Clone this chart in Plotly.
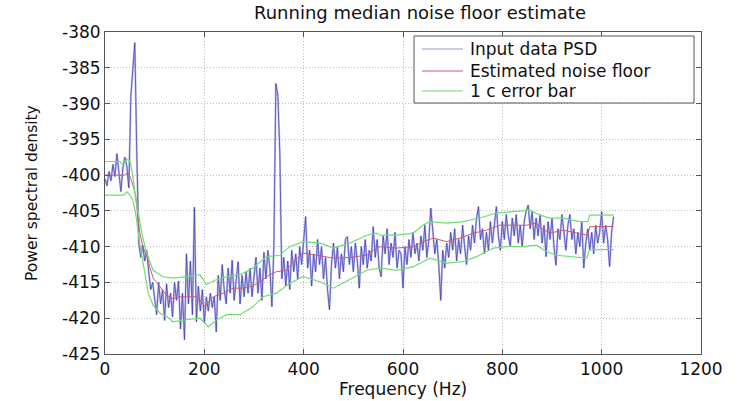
import plotly.graph_objects as go

# ---------------- data ----------------
psd_step_hz = 4
psd_values = [
    -400.5, -401.5, -399.5, -400.8, -398.5, -400.2, -397.0, -399.8, -402.3, -399.0, -397.5, -398.8, -401.8, -389.0, -385.0, -381.5, -397.0, -409.5, -411.5, -409.8, -412.0, -410.5, -413.5, -416.0, -415.0,
    -417.0, -419.5, -415.0, -418.0, -416.0, -420.3, -415.2, -418.5, -416.5, -419.8, -415.0, -417.5, -414.8, -421.5, -416.5, -423.0, -411.0, -418.0, -412.0, -419.5, -404.5, -420.5, -415.5, -419.0, -416.0,
    -420.7, -417.0, -419.0, -416.5, -418.5, -417.0, -421.9, -414.0, -417.5, -412.5, -416.0, -418.0, -413.0, -416.5, -411.9, -417.5, -414.5, -412.1, -418.0, -414.0, -417.0, -413.5, -416.5, -413.0, -417.0,
    -414.0, -411.5, -416.5, -413.0, -417.5, -410.8, -414.5, -410.5, -413.0, -418.4, -410.0, -387.2, -388.8, -397.0, -414.5, -411.5, -415.5, -412.0, -416.0, -410.5, -413.5, -411.0, -414.5, -410.0, -412.5,
    -409.5, -405.8, -413.0, -410.5, -415.5, -411.0, -413.5, -409.0, -412.5, -410.0, -414.5, -411.5, -416.0, -418.8, -412.5, -409.5, -413.0, -410.0, -414.5, -411.0, -413.5, -409.0, -408.6, -412.5, -410.0,
    -413.5, -409.5, -412.0, -415.8, -410.0, -412.5, -409.0, -413.0, -410.5, -412.0, -407.2, -411.5, -409.0, -413.0, -414.2, -408.5, -411.0, -407.5, -412.5, -409.5, -411.5, -408.0, -413.0, -410.5, -411.0,
    -415.8, -410.0, -412.5, -409.0, -411.5, -408.0, -411.0, -409.5, -412.0, -408.5, -410.5, -407.0, -411.5, -409.0, -404.6, -408.5, -411.0, -409.0, -412.5, -417.5, -410.5, -413.0, -409.5, -411.5, -408.0,
    -410.5, -407.5, -412.0, -409.0, -411.0, -407.0, -410.0, -412.5, -408.5, -410.5, -407.0, -409.5, -406.0, -404.4, -409.0, -407.5, -411.0, -408.0, -410.5, -406.5, -409.5, -407.0, -404.4, -408.5, -410.5,
    -406.5, -409.0, -405.5, -408.5, -410.0, -406.0, -408.5, -405.5, -409.5, -407.0, -410.0, -406.5, -405.0, -404.2, -407.5, -405.0, -409.0, -406.0, -408.5, -405.5, -409.5, -407.0, -411.4, -406.5, -409.0,
    -406.0, -410.0, -412.6, -407.5, -409.0, -405.5, -408.0, -410.5, -407.0, -405.5, -409.0, -407.5, -411.0, -408.0, -410.0, -406.5, -413.0, -409.5, -407.5, -410.5, -408.0, -411.0, -407.0, -409.5, -408.0,
    -405.1, -409.5, -407.0, -409.0, -412.8, -408.0, -405.8,
]
psd_freq = list(range(0, psd_step_hz * len(psd_values), psd_step_hz))

floor_freq = [0, 40, 46, 52, 58, 62, 66, 70, 76, 84, 90, 97, 104, 111, 124, 138, 150, 164, 184, 193, 201, 210, 218, 238, 258, 278, 298, 318, 330, 345, 365, 379, 390, 399, 426, 460, 493, 527, 540, 554, 587, 621, 641, 661, 688, 715, 742, 768, 795, 822, 849, 869, 880, 896, 923, 950, 972, 976, 1024]
floor_values = [-400.0, -400.0, -399.6, -400.5, -401.8, -403.0, -406.0, -408.0, -410.0, -411.2, -412.8, -414.4, -415.0, -415.6, -416.8, -417.3, -417.0, -417.0, -417.0, -417.6, -418.4, -417.6, -417.0, -416.5, -415.8, -415.8, -415.5, -414.6, -414.0, -413.5, -413.3, -412.1, -411.5, -410.9, -411.2, -411.6, -411.5, -411.2, -410.5, -410.0, -410.2, -410.0, -409.3, -408.8, -409.3, -408.8, -408.1, -407.7, -407.0, -407.0, -407.0, -406.7, -407.5, -408.1, -407.7, -408.1, -408.4, -407.2, -407.2]

upper_freq = [0, 30, 36, 44, 50, 56, 62, 70, 77, 84, 97, 117, 137, 164, 191, 198, 204, 225, 245, 272, 298, 325, 352, 372, 399, 433, 460, 493, 527, 547, 554, 587, 621, 640, 654, 688, 721, 755, 788, 822, 855, 876, 896, 923, 956, 972, 976, 1024]
upper_values = [-398.1, -398.1, -398.5, -397.8, -398.0, -400.0, -403.5, -406.7, -409.0, -410.9, -413.3, -414.2, -414.4, -414.2, -413.9, -414.6, -415.3, -414.6, -414.2, -413.9, -413.0, -411.4, -411.2, -410.0, -409.3, -409.5, -410.2, -409.5, -408.4, -408.1, -408.4, -408.4, -408.1, -407.0, -406.5, -406.7, -406.5, -406.0, -405.3, -405.1, -404.9, -405.6, -406.0, -406.0, -406.5, -406.5, -405.6, -405.6]

lower_freq = [0, 38, 44, 50, 56, 62, 70, 77, 87, 97, 111, 125, 137, 164, 191, 200, 208, 225, 245, 272, 298, 318, 345, 372, 399, 433, 460, 493, 527, 554, 587, 621, 654, 688, 721, 748, 782, 809, 842, 869, 889, 909, 943, 970, 976, 1024]
lower_values = [-402.8, -402.8, -402.3, -402.8, -403.5, -405.5, -409.5, -412.3, -416.5, -418.2, -419.3, -419.8, -420.5, -420.2, -420.0, -420.6, -421.2, -420.2, -419.5, -419.5, -418.4, -417.0, -416.5, -415.1, -414.2, -414.9, -415.8, -414.6, -413.3, -413.0, -413.3, -412.8, -411.6, -412.3, -412.1, -411.4, -410.2, -410.0, -410.0, -409.8, -410.7, -411.2, -411.4, -411.6, -410.4, -410.4]

series_names = ["Input data PSD", "Estimated noise floor", "1 c error bar"]

x_ticks = [0, 200, 400, 600, 800, 1000, 1200]
x_tick_labels = ["0", "200", "400", "600", "800", "1000", "1200"]
y_ticks = [-425, -420, -415, -410, -405, -400, -395, -390, -385, -380]
y_tick_labels = ["-425", "-420", "-415", "-410", "-405", "-400", "-395", "-390", "-385", "-380"]

FONT = "DejaVu Sans"
TXT = "#111111"
C_PSD_HALO = "rgba(140,140,215,0.55)"
C_PSD = "rgb(55,55,180)"
C_FLOOR = "rgb(205,90,110)"
C_ERR = "rgb(115,220,115)"

fig = go.Figure()
fig.add_trace(go.Scatter(x=psd_freq, y=psd_values, mode="lines", name=series_names[0],
                         line=dict(color=C_PSD_HALO, width=2.0), showlegend=False))
fig.add_trace(go.Scatter(x=psd_freq, y=psd_values, mode="lines", name=series_names[0],
                         line=dict(color=C_PSD, width=0.7), showlegend=False))
fig.add_trace(go.Scatter(x=floor_freq, y=floor_values, mode="lines", name=series_names[1],
                         line=dict(color=C_FLOOR, width=1.0), showlegend=False))
fig.add_trace(go.Scatter(x=upper_freq, y=upper_values, mode="lines", name=series_names[2],
                         line=dict(color=C_ERR, width=1.2), showlegend=False))
fig.add_trace(go.Scatter(x=lower_freq, y=lower_values, mode="lines", name=series_names[2],
                         line=dict(color=C_ERR, width=1.2), showlegend=False))

axis_common = dict(
    showline=True, linecolor="#555555", linewidth=1, mirror="ticks",
    ticks="inside", ticklen=5, tickcolor="#555555",
    showgrid=True, gridcolor="#bdbdbd", griddash="1px,2px", gridwidth=1,
    zeroline=False, tickfont=dict(family=FONT, size=17, color=TXT),
)
fig.update_xaxes(range=[0, 1200], tickvals=x_ticks, ticktext=x_tick_labels, **axis_common)
fig.update_yaxes(range=[-425, -380], tickvals=y_ticks, ticktext=y_tick_labels, **axis_common)

# ---- MATLAB-style legend box drawn in paper coordinates ----
leg_x0, leg_x1, leg_y0, leg_y1 = 0.5185, 0.9883, 0.7795, 0.9876
line_x0, line_x1, text_x = 0.532, 0.6007, 0.609
row_y = [0.9472, 0.8789, 0.8168]
row_colors = ["rgb(150,150,220)", C_FLOOR, C_ERR]

shapes = [dict(type="rect", xref="paper", yref="paper", x0=leg_x0, x1=leg_x1, y0=leg_y0, y1=leg_y1,
               line=dict(color="#555555", width=1), fillcolor="white", layer="above")]
annotations = []
for name, ry, col in zip(series_names, row_y, row_colors):
    shapes.append(dict(type="line", xref="paper", yref="paper", x0=line_x0, x1=line_x1, y0=ry, y1=ry,
                       line=dict(color=col, width=1.2), layer="above"))
    annotations.append(dict(text=name, xref="paper", yref="paper", x=text_x, y=ry,
                            xanchor="left", yanchor="middle", showarrow=False,
                            font=dict(family=FONT, size=17, color=TXT)))

annotations += [
    dict(text="Running median noise floor estimate", xref="paper", yref="paper",
         x=0.528, y=1.0, yshift=20, xanchor="center", yanchor="middle", showarrow=False,
         font=dict(family=FONT, size=18, color=TXT)),
    dict(text="Frequency (Hz)", xref="paper", yref="paper",
         x=0.50, y=0.0, yshift=-35, xanchor="center", yanchor="middle", showarrow=False,
         font=dict(family=FONT, size=17, color=TXT)),
    dict(text="Power spectral density", xref="paper", yref="paper",
         x=0.0, y=0.5, xshift=-73, xanchor="center", yanchor="middle", textangle=-90,
         showarrow=False, font=dict(family=FONT, size=15.5, color=TXT)),
]

fig.update_layout(
    width=746, height=401,
    margin=dict(l=105, r=45, t=32, b=47),
    plot_bgcolor="white", paper_bgcolor="white",
    showlegend=False,
    shapes=shapes,
    annotations=annotations,
)

fig.write_html("out.html")
